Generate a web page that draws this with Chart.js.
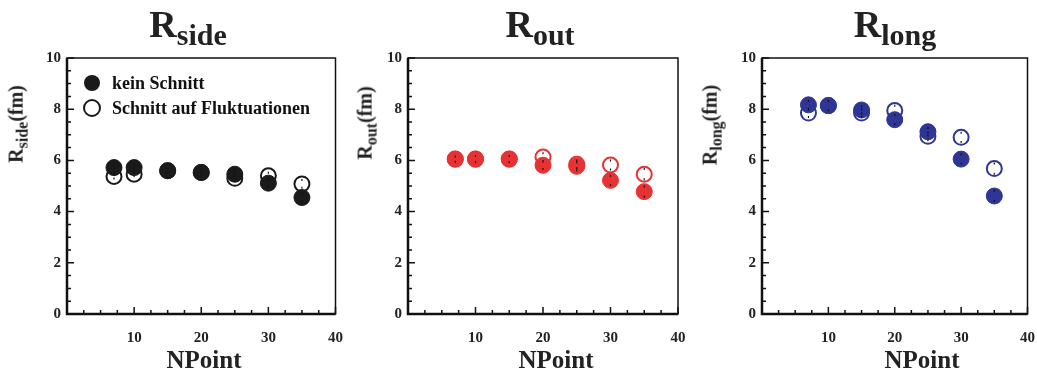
<!DOCTYPE html>
<html>
<head>
<meta charset="utf-8">
<script src="https://cdn.jsdelivr.net/npm/chart.js@4/dist/chart.umd.min.js"></script>
<style>
  body { margin: 0; background: #fff; width: 1037px; height: 379px; overflow: hidden; position: relative; font-family: "Liberation Serif", "DejaVu Serif", serif; color: #222; }
  canvas { position: absolute; top: 0; }
  .title { position: absolute; top: 2px; font-weight: bold; font-size: 38px; transform: translateX(-50%); white-space: nowrap; }
  .title sub { font-size: 30px; vertical-align: -0.28em; }
  .ytitle { position: absolute; font-weight: bold; font-size: 20px; white-space: nowrap; transform: translate(-50%, -50%) rotate(-90deg); }
  .ytitle sub { font-size: 16px; vertical-align: -0.3em; }
  .xtitle { position: absolute; top: 346px; font-weight: bold; font-size: 25px; transform: translateX(-50%); }
</style>
</head>
<body>
<canvas id="cSide" width="345" height="379" style="left:0px"></canvas>
<canvas id="cOut" width="345" height="379" style="left:345px"></canvas>
<canvas id="cLong" width="347" height="379" style="left:690px"></canvas>

<div class="title" style="left:188px">R<sub>side</sub></div>
<div class="title" style="left:540px">R<sub>out</sub></div>
<div class="title" style="left:895px">R<sub>long</sub></div>

<div class="ytitle" style="left:18px; top:124px">R<sub>side</sub>(fm)</div>
<div class="ytitle" style="left:367px; top:123px">R<sub>out</sub>(fm)</div>
<div class="ytitle" style="left:712px; top:125px">R<sub>long</sub>(fm)</div>

<div class="xtitle" style="left:204px">NPoint</div>
<div class="xtitle" style="left:556px">NPoint</div>
<div class="xtitle" style="left:922px">NPoint</div>

<script>
// Daten
const nPoint = [7, 10, 15, 20, 25, 30, 35];
const rSideKein = [5.72, 5.72, 5.60, 5.53, 5.46, 5.11, 4.55];
const rSideFluk = [5.37, 5.46, 5.60, 5.53, 5.30, 5.40, 5.08];
const rOutKein = [6.05, 6.05, 6.05, 5.81, 5.77, 5.22, 4.78];
const rOutFluk = [6.05, 6.05, 6.05, 6.13, 5.85, 5.82, 5.46];
const rLongKein = [8.17, 8.14, 7.97, 7.59, 7.12, 6.05, 4.61];
const rLongFluk = [7.85, 8.14, 7.85, 7.95, 6.94, 6.90, 5.68];
// Fehler (geschaetzt)
const rSideErr = [0.08, 0.08, 0.08, 0.08, 0.1, 0.12, 0.15];
const rOutErr = [0.1, 0.12, 0.12, 0.15, 0.15, 0.18, 0.2];
const rLongErr = [0.15, 0.18, 0.15, 0.18, 0.15, 0.18, 0.2];
const yTicks = [0, 2, 4, 6, 8, 10];
const xTicks = [10, 20, 30, 40];
const legendLabels = ['kein Schnitt', 'Schnitt auf Fluktuationen'];

const tickFont = { family: 'Liberation Serif', size: 15, weight: 'bold' };

// Rahmen, innere Ticks, Fehlerbalken und Legende
const framePlugin = {
    id: 'frame',
    afterDatasetsDraw(chart, args, opts) {
        const ctx = chart.ctx;
        const ys = chart.scales.y;
        ctx.save();
        ctx.strokeStyle = '#111';
        ctx.lineWidth = 1.2;
        ctx.beginPath();
        chart.data.datasets.forEach((ds, di) => {
            chart.getDatasetMeta(di).data.forEach((pt, i) => {
                const v = ds.data[i].y;
                const e = opts.err[i];
                const y1 = ys.getPixelForValue(v + e), y2 = ys.getPixelForValue(v - e);
                ctx.moveTo(pt.x, y1 - 1); ctx.lineTo(pt.x, y1 + 1);
                ctx.moveTo(pt.x, y2 - 1); ctx.lineTo(pt.x, y2 + 1);
            });
        });
        ctx.stroke();
        ctx.restore();
    },
    afterDraw(chart, args, opts) {
        const ctx = chart.ctx;
        const a = chart.chartArea;
        const xs = chart.scales.x, ys = chart.scales.y;
        ctx.save();
        ctx.strokeStyle = '#111';
        ctx.lineWidth = 1.5;
        ctx.strokeRect(a.left, a.top, a.right - a.left, a.bottom - a.top);
        ctx.lineWidth = 2.5;
        ctx.beginPath();
        ctx.moveTo(a.left, a.top);
        ctx.lineTo(a.left, a.bottom);
        ctx.lineTo(a.right, a.bottom);
        ctx.stroke();
        ctx.lineWidth = 1.5;
        ctx.beginPath();
        for (let v = 0; v <= 10; v += 0.5) {
            const y = ys.getPixelForValue(v);
            const len = v % 2 === 0 ? 7 : 4;
            ctx.moveTo(a.left, y);
            ctx.lineTo(a.left + len, y);
        }
        for (let v = 0; v <= 40; v += 2.5) {
            const x = xs.getPixelForValue(v);
            const len = v % 10 === 0 ? 7 : 4;
            ctx.moveTo(x, a.bottom);
            ctx.lineTo(x, a.bottom - len);
        }
        ctx.stroke();

        if (opts.legend) {
            const color = chart.data.datasets[0].borderColor;
            const lx = a.left + 25;
            const rows = [83, 108];
            ctx.font = 'bold 18px "Liberation Serif"';
            ctx.textBaseline = 'middle';
            rows.forEach((y, i) => {
                ctx.beginPath();
                ctx.arc(lx, y, 8, 0, Math.PI * 2);
                if (i === 0) {
                    ctx.fillStyle = color;
                    ctx.fill();
                } else {
                    ctx.lineWidth = 2;
                    ctx.strokeStyle = color;
                    ctx.stroke();
                }
                ctx.fillStyle = '#111';
                ctx.fillText(legendLabels[i], lx + 20, y + 1);
            });
        }
        ctx.restore();
    }
};

function makePanel(id, kein, fluk, err, color, yWidth, rightPad, legend) {
    return new Chart(document.getElementById(id), {
        type: 'scatter',
        data: {
            datasets: [{
                label: legendLabels[0],
                data: nPoint.map((x, i) => ({ x: x, y: kein[i] })),
                backgroundColor: color,
                borderColor: color,
                borderWidth: 1,
                pointRadius: 8,
                pointHoverRadius: 8
            }, {
                label: legendLabels[1],
                data: nPoint.map((x, i) => ({ x: x, y: fluk[i] })),
                backgroundColor: '#fff',
                borderColor: color,
                borderWidth: 2,
                pointRadius: 7.5,
                pointHoverRadius: 7.5
            }]
        },
        options: {
            responsive: false,
            animation: false,
            devicePixelRatio: 1,
            layout: { padding: { left: 0, top: 58, right: rightPad, bottom: 25 } },
            plugins: {
                legend: { display: false },
                tooltip: { enabled: false },
                frame: { legend: legend, err: err }
            },
            scales: {
                x: {
                    type: 'linear',
                    min: 0,
                    max: 40,
                    afterBuildTicks: (s) => { s.ticks = xTicks.map(v => ({ value: v })); },
                    afterFit: (s) => { s.height = 40; s.paddingLeft = 0; s.paddingRight = 0; },
                    grid: { display: false, drawTicks: false },
                    border: { display: false },
                    ticks: { font: tickFont, color: '#222', padding: 15, maxRotation: 0 }
                },
                y: {
                    min: 0,
                    max: 10,
                    afterBuildTicks: (s) => { s.ticks = yTicks.map(v => ({ value: v })); },
                    afterFit: (s) => { s.width = yWidth; s.paddingTop = 0; s.paddingBottom = 0; },
                    grid: { display: false, drawTicks: false },
                    border: { display: false },
                    ticks: { font: tickFont, color: '#222', padding: 6 }
                }
            }
        },
        plugins: [framePlugin]
    });
}

makePanel('cSide', rSideKein, rSideFluk, rSideErr, '#1a1a1a', 67, 8, true);
makePanel('cOut', rOutKein, rOutFluk, rOutErr, '#e63232', 63, 12, false);
makePanel('cLong', rLongKein, rLongFluk, rLongErr, '#2e3594', 72, 5, false);
</script>
</body>
</html>
